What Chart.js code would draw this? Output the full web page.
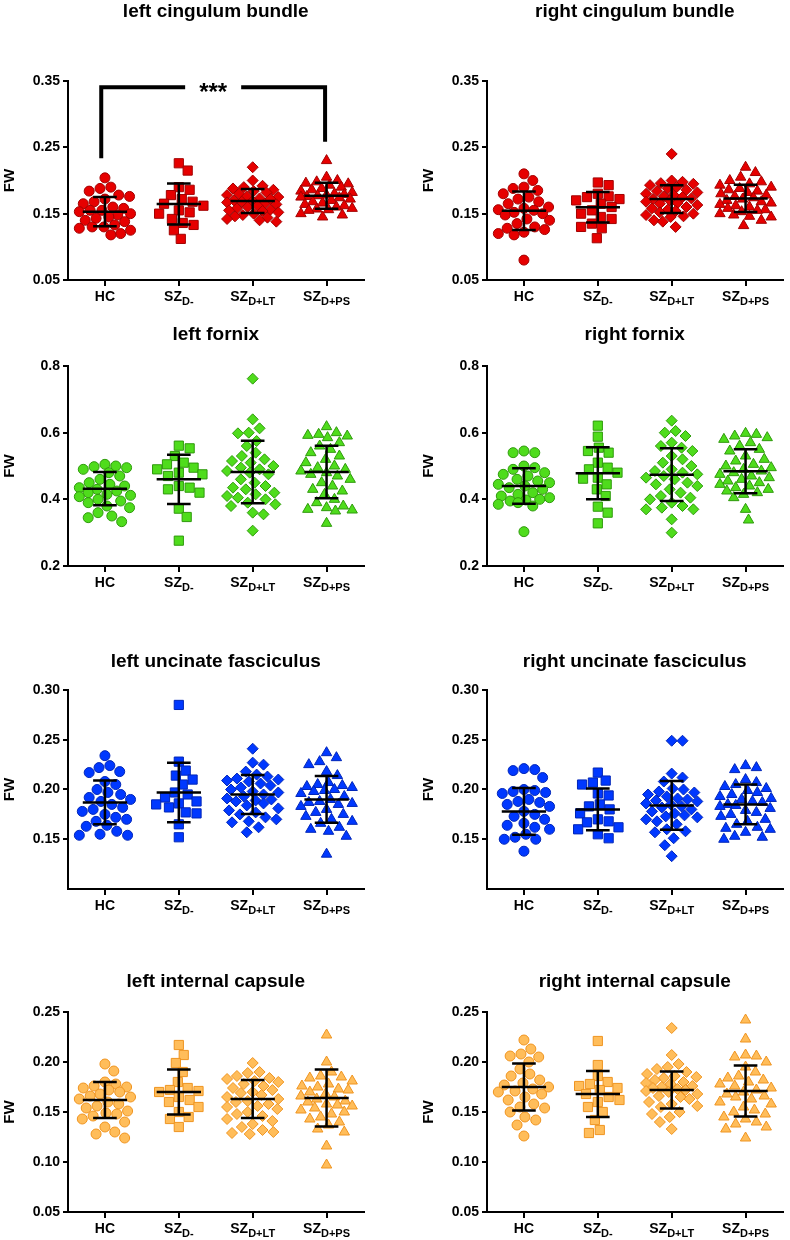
<!DOCTYPE html>
<html>
<head>
<meta charset="utf-8">
<script src="https://cdn.jsdelivr.net/npm/chart.js@4.4.0/dist/chart.umd.min.js"></script>
<style>
  body { margin: 0; background: #fff; }
  #figure { position: relative; width: 790px; height: 1240px; overflow: hidden; }
  .panel { position: absolute; }
</style>
</head>
<body>
<div id="figure"></div>
<script>
// ---- data ----
const categories = ['HC', 'SZ', 'SZ', 'SZ'];
const categorySubs = ['', 'D-', 'D+LT', 'D+PS'];
const panelTitles = ['left cingulum bundle', 'right cingulum bundle', 'left fornix', 'right fornix',
  'left uncinate fasciculus', 'right uncinate fasciculus', 'left internal capsule', 'right internal capsule'];

const cingulumTicks = [0.05, 0.15, 0.25, 0.35];
const cingulumTickLabels = ['0.05', '0.15', '0.25', '0.35'];
const fornixTicks = [0.2, 0.4, 0.6, 0.8];
const fornixTickLabels = ['0.2', '0.4', '0.6', '0.8'];
const uncinateTicks = [0.15, 0.20, 0.25, 0.30];
const uncinateTickLabels = ['0.15', '0.20', '0.25', '0.30'];
const capsuleTicks = [0.05, 0.10, 0.15, 0.20, 0.25];
const capsuleTickLabels = ['0.05', '0.10', '0.15', '0.20', '0.25'];
const rowYMin = [0.05, 0.2, 0.10, 0.05];
const rowYMax = [0.35, 0.8, 0.30, 0.25];

// significance bracket, left cingulum: HC vs SZ D+PS
const bracketGroups = [0.95, 3.98];
const bracketLevels = [0.2335, 0.3405, 0.2585];
const bracketText = '***';

const leftCingulumFW = [
  [0.204, 0.190, 0.188, 0.184, 0.178, 0.176, 0.172, 0.168, 0.165, 0.160, 0.158, 0.155, 0.155, 0.153, 0.150, 0.148, 0.145, 0.143, 0.140, 0.138, 0.133, 0.130, 0.130, 0.128, 0.125, 0.120, 0.118],
  [0.226, 0.215, 0.190, 0.186, 0.178, 0.172, 0.168, 0.165, 0.162, 0.155, 0.152, 0.150, 0.142, 0.136, 0.133, 0.125, 0.112],
  [0.220, 0.200, 0.192, 0.190, 0.188, 0.186, 0.184, 0.182, 0.180, 0.178, 0.176, 0.175, 0.173, 0.172, 0.170, 0.169, 0.168, 0.167, 0.165, 0.164, 0.162, 0.160, 0.158, 0.156, 0.155, 0.154, 0.152, 0.150, 0.148, 0.146, 0.144, 0.142, 0.140, 0.138],
  [0.230, 0.205, 0.200, 0.198, 0.196, 0.195, 0.193, 0.190, 0.188, 0.186, 0.184, 0.182, 0.180, 0.179, 0.178, 0.177, 0.176, 0.175, 0.174, 0.172, 0.170, 0.168, 0.166, 0.164, 0.162, 0.160, 0.158, 0.157, 0.156, 0.155, 0.150, 0.148, 0.145]
];
const leftCingulumMean = [0.153, 0.1646, 0.169, 0.177];
const leftCingulumSD = [0.022, 0.031, 0.018, 0.0195];

const rightCingulumFW = [
  [0.210, 0.200, 0.190, 0.188, 0.185, 0.180, 0.175, 0.172, 0.168, 0.165, 0.160, 0.158, 0.156, 0.155, 0.152, 0.150, 0.148, 0.142, 0.140, 0.135, 0.130, 0.128, 0.126, 0.122, 0.120, 0.118, 0.080],
  [0.197, 0.193, 0.180, 0.176, 0.175, 0.172, 0.170, 0.165, 0.160, 0.155, 0.150, 0.145, 0.142, 0.135, 0.130, 0.128, 0.113],
  [0.240, 0.200, 0.198, 0.196, 0.195, 0.193, 0.190, 0.188, 0.186, 0.184, 0.182, 0.180, 0.178, 0.176, 0.175, 0.173, 0.172, 0.170, 0.168, 0.166, 0.165, 0.163, 0.160, 0.158, 0.156, 0.154, 0.152, 0.150, 0.148, 0.146, 0.145, 0.140, 0.138, 0.130],
  [0.220, 0.212, 0.205, 0.200, 0.198, 0.195, 0.193, 0.190, 0.188, 0.186, 0.184, 0.182, 0.180, 0.178, 0.176, 0.174, 0.172, 0.170, 0.168, 0.166, 0.164, 0.162, 0.160, 0.158, 0.156, 0.155, 0.153, 0.150, 0.148, 0.146, 0.145, 0.140, 0.132]
];
const rightCingulumMean = [0.1545, 0.1596, 0.172, 0.173];
const rightCingulumSD = [0.029, 0.023, 0.021, 0.0205];

const leftFornixFW = [
  [0.505, 0.500, 0.498, 0.495, 0.490, 0.480, 0.470, 0.460, 0.450, 0.445, 0.440, 0.435, 0.430, 0.425, 0.420, 0.415, 0.412, 0.408, 0.400, 0.395, 0.390, 0.380, 0.375, 0.360, 0.350, 0.345, 0.333],
  [0.561, 0.553, 0.530, 0.510, 0.505, 0.495, 0.490, 0.480, 0.475, 0.470, 0.440, 0.435, 0.430, 0.420, 0.372, 0.347, 0.276],
  [0.762, 0.640, 0.613, 0.600, 0.598, 0.575, 0.560, 0.540, 0.530, 0.520, 0.515, 0.510, 0.500, 0.495, 0.490, 0.485, 0.480, 0.475, 0.460, 0.450, 0.440, 0.435, 0.430, 0.420, 0.415, 0.410, 0.405, 0.400, 0.390, 0.385, 0.380, 0.360, 0.355, 0.306],
  [0.618, 0.600, 0.595, 0.592, 0.590, 0.585, 0.570, 0.560, 0.550, 0.540, 0.530, 0.520, 0.510, 0.500, 0.495, 0.490, 0.485, 0.480, 0.475, 0.470, 0.460, 0.450, 0.440, 0.430, 0.425, 0.415, 0.400, 0.390, 0.380, 0.375, 0.370, 0.368, 0.365, 0.328]
];
const leftFornixMean = [0.432, 0.46, 0.482, 0.482];
const leftFornixSD = [0.05, 0.074, 0.094, 0.079];

const rightFornixFW = [
  [0.545, 0.540, 0.540, 0.500, 0.495, 0.490, 0.480, 0.475, 0.470, 0.460, 0.455, 0.450, 0.445, 0.440, 0.435, 0.430, 0.420, 0.415, 0.410, 0.405, 0.400, 0.398, 0.395, 0.390, 0.385, 0.380, 0.303],
  [0.621, 0.588, 0.555, 0.545, 0.540, 0.510, 0.495, 0.490, 0.480, 0.465, 0.462, 0.445, 0.430, 0.410, 0.378, 0.360, 0.328],
  [0.636, 0.605, 0.600, 0.590, 0.570, 0.560, 0.555, 0.545, 0.530, 0.520, 0.510, 0.500, 0.490, 0.485, 0.480, 0.475, 0.470, 0.465, 0.460, 0.450, 0.445, 0.440, 0.430, 0.420, 0.410, 0.405, 0.400, 0.390, 0.380, 0.375, 0.370, 0.370, 0.340, 0.300],
  [0.598, 0.595, 0.590, 0.585, 0.580, 0.570, 0.560, 0.550, 0.545, 0.530, 0.520, 0.515, 0.505, 0.500, 0.495, 0.490, 0.485, 0.480, 0.475, 0.470, 0.465, 0.460, 0.455, 0.450, 0.445, 0.440, 0.435, 0.430, 0.425, 0.420, 0.415, 0.405, 0.370, 0.338]
];
const rightFornixMean = [0.44, 0.478, 0.474, 0.484];
const rightFornixSD = [0.053, 0.078, 0.079, 0.066];

const leftUncinateFW = [
  [0.234, 0.224, 0.222, 0.218, 0.217, 0.208, 0.205, 0.200, 0.197, 0.195, 0.192, 0.190, 0.188, 0.185, 0.182, 0.180, 0.178, 0.175, 0.172, 0.170, 0.168, 0.164, 0.163, 0.158, 0.155, 0.154, 0.154],
  [0.285, 0.228, 0.219, 0.214, 0.210, 0.205, 0.197, 0.195, 0.192, 0.188, 0.186, 0.185, 0.182, 0.177, 0.176, 0.165, 0.152],
  [0.241, 0.227, 0.225, 0.218, 0.215, 0.213, 0.211, 0.210, 0.209, 0.208, 0.206, 0.204, 0.202, 0.200, 0.198, 0.197, 0.195, 0.193, 0.191, 0.190, 0.189, 0.188, 0.186, 0.184, 0.181, 0.179, 0.177, 0.175, 0.172, 0.170, 0.168, 0.167, 0.162, 0.157],
  [0.237, 0.232, 0.228, 0.225, 0.218, 0.214, 0.207, 0.205, 0.204, 0.203, 0.202, 0.200, 0.199, 0.198, 0.196, 0.193, 0.190, 0.188, 0.187, 0.186, 0.185, 0.183, 0.180, 0.177, 0.175, 0.173, 0.170, 0.168, 0.166, 0.162, 0.160, 0.158, 0.153, 0.135]
];
const leftUncinateMean = [0.187, 0.197, 0.195, 0.190];
const leftUncinateSD = [0.022, 0.030, 0.0195, 0.0235];

const rightUncinateFW = [
  [0.221, 0.220, 0.219, 0.212, 0.200, 0.199, 0.198, 0.197, 0.196, 0.190, 0.188, 0.187, 0.185, 0.183, 0.178, 0.175, 0.173, 0.170, 0.166, 0.164, 0.162, 0.160, 0.155, 0.152, 0.150, 0.150, 0.138],
  [0.217, 0.209, 0.207, 0.205, 0.196, 0.194, 0.185, 0.183, 0.180, 0.176, 0.170, 0.168, 0.167, 0.162, 0.160, 0.155, 0.151],
  [0.249, 0.249, 0.216, 0.212, 0.208, 0.201, 0.200, 0.198, 0.197, 0.195, 0.193, 0.191, 0.190, 0.189, 0.188, 0.186, 0.185, 0.183, 0.182, 0.180, 0.178, 0.176, 0.174, 0.173, 0.172, 0.170, 0.168, 0.165, 0.160, 0.158, 0.157, 0.151, 0.144, 0.133],
  [0.224, 0.222, 0.220, 0.210, 0.207, 0.205, 0.203, 0.201, 0.199, 0.197, 0.195, 0.193, 0.191, 0.190, 0.188, 0.187, 0.185, 0.184, 0.183, 0.181, 0.179, 0.177, 0.175, 0.173, 0.170, 0.168, 0.165, 0.162, 0.161, 0.160, 0.157, 0.153, 0.152, 0.150]
];
const rightUncinateMean = [0.178, 0.180, 0.184, 0.185];
const rightUncinateSD = [0.0235, 0.021, 0.0245, 0.020];

const leftCapsuleFW = [
  [0.198, 0.191, 0.180, 0.178, 0.176, 0.175, 0.174, 0.172, 0.170, 0.168, 0.166, 0.165, 0.163, 0.160, 0.158, 0.156, 0.154, 0.151, 0.149, 0.148, 0.146, 0.143, 0.140, 0.135, 0.130, 0.128, 0.124],
  [0.217, 0.207, 0.199, 0.190, 0.180, 0.174, 0.172, 0.171, 0.170, 0.165, 0.162, 0.160, 0.155, 0.150, 0.145, 0.143, 0.135],
  [0.199, 0.190, 0.189, 0.186, 0.184, 0.183, 0.181, 0.180, 0.178, 0.176, 0.174, 0.172, 0.170, 0.169, 0.167, 0.165, 0.163, 0.161, 0.160, 0.158, 0.156, 0.155, 0.153, 0.150, 0.148, 0.146, 0.143, 0.141, 0.138, 0.135, 0.132, 0.130, 0.129, 0.128],
  [0.227, 0.200, 0.190, 0.186, 0.185, 0.184, 0.181, 0.178, 0.176, 0.175, 0.173, 0.172, 0.170, 0.168, 0.166, 0.165, 0.163, 0.161, 0.160, 0.158, 0.157, 0.156, 0.154, 0.152, 0.150, 0.148, 0.145, 0.143, 0.140, 0.137, 0.133, 0.130, 0.116, 0.097]
];
const leftCapsuleMean = [0.162, 0.170, 0.163, 0.164];
const leftCapsuleSD = [0.018, 0.0225, 0.019, 0.0285];

const rightCapsuleFW = [
  [0.222, 0.213, 0.208, 0.206, 0.205, 0.200, 0.193, 0.188, 0.186, 0.182, 0.179, 0.177, 0.175, 0.173, 0.171, 0.170, 0.168, 0.165, 0.162, 0.158, 0.155, 0.154, 0.150, 0.145, 0.142, 0.137, 0.126],
  [0.221, 0.197, 0.186, 0.180, 0.178, 0.176, 0.174, 0.172, 0.168, 0.165, 0.162, 0.160, 0.155, 0.150, 0.142, 0.132, 0.129],
  [0.234, 0.207, 0.198, 0.195, 0.193, 0.190, 0.188, 0.186, 0.185, 0.184, 0.182, 0.180, 0.179, 0.178, 0.176, 0.175, 0.174, 0.173, 0.172, 0.171, 0.170, 0.168, 0.166, 0.165, 0.163, 0.160, 0.158, 0.156, 0.155, 0.150, 0.148, 0.145, 0.140, 0.133],
  [0.242, 0.223, 0.207, 0.206, 0.205, 0.200, 0.195, 0.190, 0.186, 0.184, 0.182, 0.180, 0.178, 0.176, 0.174, 0.172, 0.170, 0.168, 0.166, 0.165, 0.163, 0.160, 0.158, 0.155, 0.152, 0.150, 0.148, 0.145, 0.143, 0.140, 0.138, 0.135, 0.133, 0.124]
];
const rightCapsuleMean = [0.175, 0.168, 0.172, 0.171];
const rightCapsuleSD = [0.0235, 0.023, 0.0185, 0.0255];

// ---- layout and style ----
const FONT = "'Liberation Sans', Arial, Helvetica, sans-serif";
const colLeft = [0, 419];
const rowTop = [0, 318, 638, 958];
const rowHeight = [310, 282, 282, 282];
const titleMid = [11, 335, 662, 982];
const plotTop = [81, 366, 690, 1012];
const plotBottom = [280, 566, 889, 1212];
const CANVAS_W = 371, AXIS_W = 68, RIGHT_PAD = 3, TITLE_SIZE = 19;
const PX_PER_X = (CANVAS_W - RIGHT_PAD - AXIS_W) / 4;

const rowColors = [
  { fill: '#e60000', border: '#a30000' },
  { fill: '#4fdc1c', border: '#2f9a0c' },
  { fill: '#0038ff', border: '#0026b8' },
  { fill: '#ffbd5a', border: '#ef9420' }
];
const groupShapes = ['circle', 'rect', 'rectRot', 'triangle'];
const groupRadius = [5, 6.5, 5.5, 6];

const rowTicks = [cingulumTicks, fornixTicks, uncinateTicks, capsuleTicks];
const rowTickLabels = [cingulumTickLabels, fornixTickLabels, uncinateTickLabels, capsuleTickLabels];
const panelValues = [leftCingulumFW, rightCingulumFW, leftFornixFW, rightFornixFW,
  leftUncinateFW, rightUncinateFW, leftCapsuleFW, rightCapsuleFW];
const panelMeans = [leftCingulumMean, rightCingulumMean, leftFornixMean, rightFornixMean,
  leftUncinateMean, rightUncinateMean, leftCapsuleMean, rightCapsuleMean];
const panelSDs = [leftCingulumSD, rightCingulumSD, leftFornixSD, rightFornixSD,
  leftUncinateSD, rightUncinateSD, leftCapsuleSD, rightCapsuleSD];

// beeswarm: push each point sideways until it stops overlapping,
// but never further than MAXOFF px (then take the least crowded spot)
function swarm(vals, g, pxPerY) {
  const placed = [];
  const out = [];
  const order = vals.map((v, i) => i).sort((a, b) => vals[b] - vals[a]);
  const STEP = 1, DIAM = 11, MAXOFF = 26;
  order.forEach(i => {
    const py = vals[i] * pxPerY;
    let off = null, bestOff = 0, bestDist = -1;
    for (let k = 0; k <= 2 * MAXOFF; k++) {
      const cand = (k % 2 ? 1 : -1) * Math.ceil(k / 2) * STEP;
      let dmin = Infinity;
      placed.forEach(p => { dmin = Math.min(dmin, Math.hypot(p.x - cand, p.y - py)); });
      if (dmin >= DIAM) { off = cand; break; }
      if (dmin > bestDist) { bestDist = dmin; bestOff = cand; }
    }
    if (off === null) off = bestOff;
    placed.push({ x: off, y: py });
    out.push({ x: g + 1 + off / PX_PER_X, y: vals[i] });
  });
  return out;
}

function errorBars(means, sds) {
  const pts = [];
  means.forEach((m, g) => {
    const c = g + 1, s = sds[g];
    pts.push({ x: c - 0.3, y: m }, { x: c + 0.3, y: m }, { x: c, y: null });
    pts.push({ x: c, y: m - s }, { x: c, y: m + s }, { x: c, y: null });
    pts.push({ x: c - 0.16, y: m + s }, { x: c + 0.16, y: m + s }, { x: c, y: null });
    pts.push({ x: c - 0.16, y: m - s }, { x: c + 0.16, y: m - s }, { x: c, y: null });
  });
  return pts;
}

const categoryLabels = {
  id: 'categoryLabels',
  afterDraw(chart) {
    const { ctx, chartArea, scales: { x } } = chart;
    ctx.save();
    ctx.fillStyle = '#000';
    ctx.textBaseline = 'middle';
    ctx.textAlign = 'left';
    categories.forEach((c, i) => {
      ctx.font = 'bold 14px ' + FONT;
      const w1 = ctx.measureText(c).width;
      ctx.font = 'bold 11px ' + FONT;
      const w2 = categorySubs[i] ? ctx.measureText(categorySubs[i]).width : 0;
      const left = x.getPixelForValue(i + 1) - (w1 + w2) / 2;
      const y = chartArea.bottom + 17;
      ctx.font = 'bold 14px ' + FONT;
      ctx.fillText(c, left, y);
      if (w2) {
        ctx.font = 'bold 11px ' + FONT;
        ctx.fillText(categorySubs[i], left + w1, y + 5);
      }
    });
    ctx.restore();
  }
};

const sigBracket = {
  id: 'sigBracket',
  afterDatasetsDraw(chart, args, opts) {
    if (!opts.show) return;
    const { ctx, scales: { x, y } } = chart;
    const x1 = x.getPixelForValue(bracketGroups[0]);
    const x2 = x.getPixelForValue(bracketGroups[1]);
    const yL = y.getPixelForValue(bracketLevels[0]);
    const yTop = y.getPixelForValue(bracketLevels[1]);
    const yR = y.getPixelForValue(bracketLevels[2]);
    ctx.save();
    ctx.font = 'bold 24px ' + FONT;
    const tw = ctx.measureText(bracketText).width;
    const mid = (x1 + x2) / 2;
    const gap = tw / 2 + 14;
    ctx.lineWidth = 4;
    ctx.strokeStyle = '#000';
    ctx.beginPath();
    ctx.moveTo(x1, yL); ctx.lineTo(x1, yTop); ctx.lineTo(mid - gap, yTop);
    ctx.moveTo(mid + gap, yTop); ctx.lineTo(x2, yTop); ctx.lineTo(x2, yR);
    ctx.stroke();
    ctx.fillStyle = '#000';
    ctx.textAlign = 'center';
    ctx.textBaseline = 'middle';
    ctx.fillText(bracketText, mid, yTop + 6);
    ctx.restore();
  }
};

Chart.defaults.font.family = FONT;
Chart.defaults.color = '#000';

const figure = document.getElementById('figure');

panelTitles.forEach((title, p) => {
  const row = Math.floor(p / 2), col = p % 2;
  const yMin = rowYMin[row], yMax = rowYMax[row];
  const pxPerY = (plotBottom[row] - plotTop[row]) / (yMax - yMin);
  const color = rowColors[row];

  const holder = document.createElement('div');
  holder.className = 'panel';
  holder.style.left = colLeft[col] + 'px';
  holder.style.top = rowTop[row] + 'px';
  const canvas = document.createElement('canvas');
  canvas.width = CANVAS_W;
  canvas.height = rowHeight[row];
  holder.appendChild(canvas);
  figure.appendChild(holder);

  const titleLine = TITLE_SIZE * 1.2;
  const titlePadTop = Math.max(0, titleMid[row] - rowTop[row] - titleLine / 2);
  const titlePadBottom = plotTop[row] - rowTop[row] - titlePadTop - titleLine;
  const xAxisH = rowTop[row] + rowHeight[row] - plotBottom[row];

  const datasets = [{
    data: errorBars(panelMeans[p], panelSDs[p]),
    showLine: true,
    borderColor: '#000',
    borderWidth: 2.5,
    pointRadius: 0,
    spanGaps: false
  }];
  panelValues[p].forEach((vals, g) => {
    datasets.push({
      data: swarm(vals, g, pxPerY),
      pointStyle: groupShapes[g],
      pointRadius: groupRadius[g],
      backgroundColor: color.fill,
      borderColor: color.border,
      borderWidth: 1
    });
  });

  const ticks = rowTicks[row], tickLabels = rowTickLabels[row];

  new Chart(canvas, {
    type: 'scatter',
    data: { datasets },
    options: {
      responsive: false,
      animation: false,
      events: [],
      layout: { padding: { left: 0, right: RIGHT_PAD, top: 0, bottom: 0 } },
      plugins: {
        legend: { display: false },
        tooltip: { enabled: false },
        title: {
          display: true,
          text: title,
          fullSize: false,
          color: '#000',
          font: { size: TITLE_SIZE, weight: 'bold' },
          padding: { top: titlePadTop, bottom: titlePadBottom }
        },
        sigBracket: { show: p === 0 }
      },
      scales: {
        x: {
          type: 'linear',
          min: 0.5,
          max: 4.5,
          afterBuildTicks: s => { s.ticks = [1, 2, 3, 4].map(v => ({ value: v })); },
          afterFit: s => { s.height = xAxisH; },
          ticks: { display: false },
          grid: { drawOnChartArea: false, drawTicks: true, tickLength: 6, color: '#000', lineWidth: 2 },
          border: { display: true, color: '#000', width: 2 }
        },
        y: {
          type: 'linear',
          min: yMin,
          max: yMax,
          afterBuildTicks: s => { s.ticks = ticks.map(v => ({ value: v })); },
          afterFit: s => { s.width = AXIS_W; },
          ticks: {
            color: '#000',
            padding: 3,
            font: { size: 14, weight: 'bold' },
            callback: (v, i) => tickLabels[i]
          },
          grid: { drawOnChartArea: false, drawTicks: true, tickLength: 5, color: '#000', lineWidth: 2 },
          border: { display: true, color: '#000', width: 2 },
          title: {
            display: true,
            text: 'FW',
            color: '#000',
            font: { size: 15, weight: 'bold' },
            padding: { top: 1, bottom: 0 }
          }
        }
      }
    },
    plugins: [categoryLabels, sigBracket]
  });
});
</script>
</body>
</html>
